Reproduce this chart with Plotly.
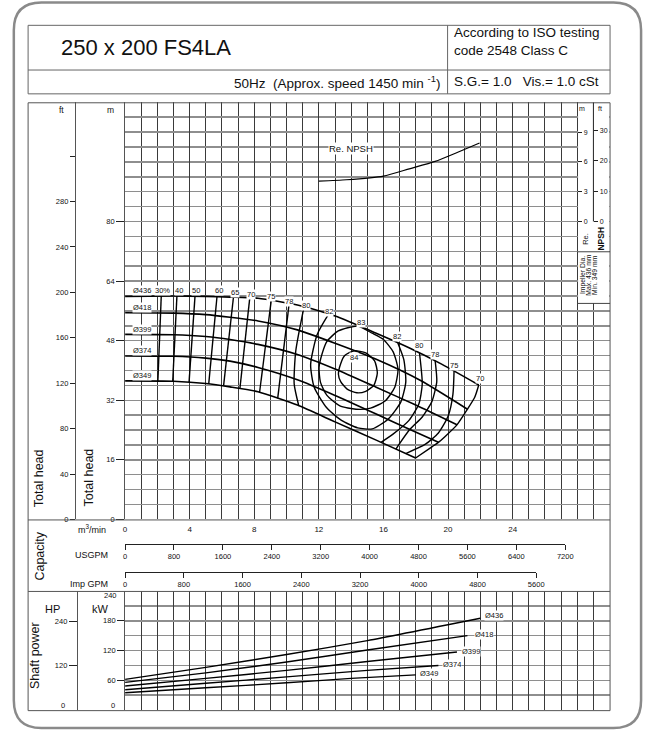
import plotly.graph_objects as go

# ---------------- data ----------------
# Capacity scales
m3min_ticks = [0, 4, 8, 12, 16, 20, 24]
usgpm_ticks = [0, 800, 1600, 2400, 3200, 4000, 4800, 5600, 6400, 7200]
impgpm_ticks = [0, 800, 1600, 2400, 3200, 4000, 4800, 5600]

# Head axes
head_m_ticks = [0, 16, 32, 48, 64, 80]
head_ft_ticks = [0, 40, 80, 120, 160, 200, 240, 280]
head_ft_extra_tick = [320]
npsh_m_ticks = [0, 3, 6, 9]
npsh_ft_ticks = [0, 10, 20, 30]
kw_ticks = [60, 120, 180]
hp_ticks = [120, 240]

diam_labels = ["Ø436", "Ø418", "Ø399", "Ø374", "Ø349"]

# Head curves (Q in m3/min, H in m)
q436 = [0, 3, 5, 6.5, 8.23, 10.67, 13, 15.55, 17.58, 19.6, 21.9]
h436 = [59.9, 60.0, 59.9, 59.7, 59.4, 57.6, 54.6, 50.0, 46.1, 41.7, 36.1]
q418 = [0, 3, 5, 6.5, 8.23, 10.67, 13, 15.55, 18.3, 21.2]
h418 = [55.5, 55.4, 55.0, 54.3, 53.3, 50.9, 47.3, 43.0, 37.3, 29.6]
q399 = [0, 3, 5, 6.5, 8.23, 10.67, 13, 15.55, 18, 20.55]
h399 = [49.7, 49.6, 49.1, 48.3, 47.0, 44.3, 40.4, 35.5, 30.7, 25.4]
q374 = [0, 3, 5, 6.5, 8.23, 10.67, 13, 15.55, 17.5, 19.4]
h374 = [43.9, 43.8, 43.3, 42.5, 40.8, 37.5, 33.3, 28.3, 24.4, 20.7]
q349 = [0, 3, 5, 6.5, 8.23, 10.67, 13, 15.55, 17.99]
h349 = [37.2, 37.1, 36.5, 35.6, 34.3, 30.7, 26.2, 21.3, 16.5]
diam_label_q = [1.02, 1.02, 1.02, 1.02, 1.02]
diam_label_h = [61.4, 56.8, 51.0, 45.25, 38.6]

# Efficiency lines, left side (from largest to smallest impeller)
eff_left_q_top = [2.24, 3.21, 4.33, 5.69, 6.71, 7.72, 9.05, 10.16]
eff_left_h_top = [59.98, 60.0, 59.95, 59.8, 59.65, 59.5, 58.8, 58.0]
eff_left_q_bot = [2.03, 2.95, 3.96, 5.18, 6.1, 7.11, 8.33, 9.45]
eff_left_h_bot = [37.15, 37.1, 36.8, 36.4, 35.95, 35.15, 34.15, 32.5]
eff80_left_q = [11.08, 10.57, 10.47, 10.75]
eff80_left_h = [57.1, 45.3, 36.4, 30.6]
eff82_q = [12.6, 11.89, 11.49, 11.71, 12.5, 13.4, 14.4, 15.3, 16.28, 17.07, 17.38, 17.26, 16.89]
eff82_h = [55.1, 49.6, 41.6, 35.5, 29.9, 26.6, 24.6, 24.3, 26.9, 31.5, 36.8, 42.9, 47.4]
eff83_q = [12.01, 12.2, 12.5, 13.2, 14.4, 15.3, 16.0, 16.6, 16.9, 16.7, 16.1, 15.2, 14.3, 13.3, 12.5, 12.1, 12.01]
eff83_h = [40.8, 44.5, 47.8, 50.6, 51.9, 50.0, 48.3, 45.0, 40.3, 35.5, 31.8, 29.9, 29.6, 30.5, 33.3, 36.8, 40.8]
eff84_q = [13.21, 13.35, 13.6, 14.2, 14.9, 15.45, 15.62, 15.4, 14.9, 14.35, 13.75, 13.35, 13.21]
eff84_h = [39.0, 41.8, 44.0, 45.3, 44.7, 42.6, 39.3, 36.0, 34.4, 34.0, 35.0, 37.0, 39.0]
eff80_right_q = [18.23, 18.4, 18.19, 17.58, 16.59, 15.85]
eff80_right_h = [44.7, 36.35, 31.0, 26.6, 22.9, 20.7]
eff78_right_q = [19.2, 19.3, 19.0, 18.4, 17.6, 16.77]
eff78_right_h = [42.6, 37.0, 31.7, 27.5, 24.0, 18.9]
eff75_right_q = [20.37, 20.3, 20.0, 19.4, 18.6, 17.38]
eff75_right_h = [39.8, 33.6, 27.7, 23.2, 20.2, 17.7]
eff70_right_q = [21.9, 21.65, 21.2, 20.55, 19.82, 19.4, 19.0, 17.99]
eff70_right_h = [36.1, 32.8, 29.6, 25.4, 22.3, 20.7, 19.5, 16.5]

eff_label_text = ["30%", "40", "50", "60", "65", "70", "75", "78", "80", "82",
                  "83", "84", "82", "80", "78", "75", "70"]
eff_label_q = [2.32, 3.35, 4.39, 5.79, 6.83, 7.8, 9.02, 10.18, 11.22, 12.62,
               14.63, 14.15, 16.81, 18.19, 19.2, 20.38, 22.0]
eff_label_h = [61.4, 61.4, 61.4, 61.4, 60.8, 60.5, 59.9, 58.6, 57.4, 55.9,
               53.0, 43.5, 49.1, 46.7, 44.2, 41.4, 37.9]

# Required NPSH (m)
npsh_q = [12.0, 13.7, 16.0, 17.6, 19.2, 20.6, 21.95]
npsh_m = [4.07, 4.2, 4.57, 5.3, 6.05, 6.97, 7.9]

# Shaft power (kW)
pq436 = [0, 5, 10, 15, 22.0]
pk436 = [62, 86, 112, 140, 185]
pq418 = [0, 5, 10, 15, 21.2]
pk418 = [56, 75, 97, 121, 150]
pq399 = [0, 5, 10, 15, 20.55]
pk399 = [48.5, 64, 80, 98, 117]
pq374 = [0, 5, 10, 15, 19.4]
pk374 = [41, 54, 67, 80, 90]
pq349 = [0, 5, 10, 14, 18.0]
pk349 = [35, 45, 55, 64, 71]
power_label_q = [22.2, 21.62, 20.8, 19.63, 18.23]
power_label_kw = [190, 152, 118, 92, 74]

# ---------------- layout helpers ----------------
W, H = 654, 735
def px(x):
    return x / W
def py(y):
    return 1 - y / H

FONT = "Liberation Sans, Arial, sans-serif"
VGRID = "#3a3a3a"
HGRID = "#8e8e8e"
BOX = "#555555"

fig = go.Figure()

def curve(q, h, yaxis="y", xaxis="x", width=1.5, shape="spline", smoothing=0.6, color="black"):
    fig.add_trace(go.Scatter(x=q, y=h, mode="lines", xaxis=xaxis, yaxis=yaxis,
                             line=dict(color=color, width=width, shape=shape, smoothing=smoothing),
                             hoverinfo="skip", showlegend=False))

# head curves
for q, h in [(q436, h436), (q418, h418), (q399, h399), (q374, h374), (q349, h349)]:
    curve(q, h, width=1.6)
# efficiency lines
for i in range(len(eff_left_q_top)):
    curve([eff_left_q_top[i], eff_left_q_bot[i]], [eff_left_h_top[i], eff_left_h_bot[i]],
          shape="linear", width=1.4)
for q, h in [(eff80_left_q, eff80_left_h), (eff82_q, eff82_h), (eff83_q, eff83_h),
             (eff84_q, eff84_h), (eff80_right_q, eff80_right_h), (eff78_right_q, eff78_right_h),
             (eff75_right_q, eff75_right_h), (eff70_right_q, eff70_right_h)]:
    curve(q, h, width=1.4)
# NPSH
curve(npsh_q, npsh_m, yaxis="y3", width=1.2)
# shaft power
for q, p in [(pq436, pk436), (pq418, pk418), (pq399, pk399), (pq374, pk374), (pq349, pk349)]:
    curve(q, p, xaxis="x2", yaxis="y2", width=1.4)

# empty traces so that the secondary scales are drawn
for xa, ya in [("x", "y4"), ("x", "y5"), ("x2", "y6"), ("x3", "y7"), ("x4", "y8")]:
    fig.add_trace(go.Scatter(x=[], y=[], mode="lines", xaxis=xa, yaxis=ya,
                             hoverinfo="skip", showlegend=False))

tf = dict(size=7.5, color="#111", family=FONT)

layout = dict(
    width=W, height=H, margin=dict(l=0, r=0, t=0, b=0),
    paper_bgcolor="white", plot_bgcolor="rgba(0,0,0,0)",
    font=dict(family=FONT, size=8, color="#111"), showlegend=False,
    xaxis=dict(domain=[px(125), px(617)], range=[0, 30], anchor="y", tickmode="array",
               tickvals=m3min_ticks, ticks="", showline=False, zeroline=False,
               ticklabelstandoff=4,
               showgrid=True, gridcolor=VGRID, gridwidth=1,
               minor=dict(dtick=1, showgrid=True, gridcolor=VGRID, gridwidth=1),
               tickfont=dict(size=8, color="#111", family=FONT), fixedrange=True),
    yaxis=dict(domain=[py(523), py(103)], range=[0, 112], anchor="x", tickmode="array",
               tickvals=head_m_ticks, ticks="outside", ticklen=8, tickcolor="#222",
               showline=True, linecolor=BOX, zeroline=False,
               showgrid=True, gridcolor=HGRID, gridwidth=1.5,
               minor=dict(dtick=4, showgrid=True, gridcolor=HGRID, gridwidth=1.5),
               tickfont=tf, fixedrange=True),
    yaxis3=dict(overlaying="y", anchor="free", position=px(584.2), side="right",
                range=[-30, 12], tickmode="array", tickvals=npsh_m_ticks, ticks="outside",
                ticklen=4, tickcolor="#222", showline=False, showgrid=False, zeroline=False,
                tickfont=dict(size=7, color="#111", family=FONT), fixedrange=True),
    yaxis4=dict(overlaying="y", anchor="free", position=px(600.6), side="right",
                range=[-30 / 0.3048, 12 / 0.3048], tickmode="array", tickvals=npsh_ft_ticks,
                ticks="outside", ticklen=4, tickcolor="#222", showline=False, showgrid=False,
                zeroline=False, tickfont=dict(size=7, color="#111", family=FONT), fixedrange=True),
    yaxis5=dict(overlaying="y", anchor="free", position=px(74), side="left",
                range=[0, 112 / 0.3048], tickmode="array", tickvals=head_ft_ticks,
                ticks="outside", ticklen=5, tickcolor="#222",
                minor=dict(tickmode="array", tickvals=head_ft_extra_tick, ticks="outside",
                           ticklen=5, tickcolor="#222", showgrid=False),
                showline=True, linecolor=BOX, showgrid=False, zeroline=False,
                tickfont=tf, fixedrange=True),
    xaxis2=dict(domain=[px(125), px(617)], range=[0, 30], anchor="y2", dtick=1,
                showticklabels=False, ticks="", showline=False, zeroline=False,
                showgrid=True, gridcolor=VGRID, gridwidth=1, fixedrange=True),
    yaxis2=dict(domain=[py(715), py(595)], range=[0, 240], anchor="x2", tickmode="array",
                tickvals=kw_ticks, ticks="outside", ticklen=7, tickcolor="#222",
                showline=True, linecolor=BOX, zeroline=False,
                showgrid=True, gridcolor=HGRID, gridwidth=1.5,
                minor=dict(dtick=30, showgrid=True, gridcolor=HGRID, gridwidth=1.5),
                tickfont=tf, fixedrange=True),
    yaxis6=dict(overlaying="y2", anchor="free", position=px(76), side="left",
                range=[0, 240 / 0.7457], tickmode="array", tickvals=hp_ticks,
                ticks="outside", ticklen=8, tickcolor="#222", showline=True, linecolor=BOX,
                showgrid=False, zeroline=False, tickfont=tf, fixedrange=True),
    xaxis3=dict(domain=[px(125), px(125 + 16.4 * 7200 / 264.172)], range=[0, 7200],
                anchor="y7", side="bottom", tickmode="array", tickvals=usgpm_ticks,
                ticks="outside", ticklen=5, tickcolor="#222", showline=True, linecolor="#222",
                showgrid=False, zeroline=False, tickfont=tf, fixedrange=True),
    yaxis7=dict(domain=[py(548), py(542)], anchor="x3", range=[0, 1], visible=False, fixedrange=True),
    xaxis4=dict(domain=[px(125), px(125 + 16.4 * 5600 / 219.969)], range=[0, 5600],
                anchor="y8", side="bottom", tickmode="array", tickvals=impgpm_ticks,
                ticks="outside", ticklen=5, tickcolor="#222", showline=True, linecolor="#222",
                showgrid=False, zeroline=False, tickfont=tf, fixedrange=True),
    yaxis8=dict(domain=[py(576), py(570)], anchor="x4", range=[0, 1], visible=False, fixedrange=True),
)
fig.update_layout(**layout)

# ---------------- shapes ----------------
shapes = []
def line(x0, y0, x1, y1, color=BOX, width=1):
    shapes.append(dict(type="line", xref="paper", yref="paper", x0=px(x0), y0=py(y0),
                       x1=px(x1), y1=py(y1), line=dict(color=color, width=width), layer="above"))

# outer rounded frame
r = 28
fx0, fy0, fx1, fy1 = 12, 2.5, 649, 733
path = (f"M {px(fx0 + r)},{py(fy0)} L {px(fx1 - r)},{py(fy0)} "
        f"Q {px(fx1)},{py(fy0)} {px(fx1)},{py(fy0 + r)} L {px(fx1)},{py(fy1 - r)} "
        f"Q {px(fx1)},{py(fy1)} {px(fx1 - r)},{py(fy1)} L {px(fx0 + r)},{py(fy1)} "
        f"Q {px(fx0)},{py(fy1)} {px(fx0)},{py(fy1 - r)} L {px(fx0)},{py(fy0 + r)} "
        f"Q {px(fx0)},{py(fy0)} {px(fx0 + r)},{py(fy0)} Z")
shapes.append(dict(type="path", xref="paper", yref="paper", path=path,
                   line=dict(color="#8a8a8a", width=2.5), layer="below"))

# header box
line(26.5, 25.5, 617.5, 25.5, "#666")
line(26.5, 94.5, 617.5, 94.5, "#666")
line(26.5, 25.5, 26.5, 94.5, "#666")
line(617.5, 25.5, 617.5, 94.5, "#666")
line(26.5, 70.5, 617.5, 70.5, "#666")
line(452.5, 25.5, 452.5, 94.5, "#666")

# main box
line(26.5, 103.5, 617.5, 103.5)
line(26.5, 715.5, 617.5, 715.5)
line(26.5, 103.5, 26.5, 715.5)
line(617.5, 103.5, 617.5, 715.5)
line(26.5, 523.5, 617.5, 523.5)
line(26.5, 595.5, 617.5, 595.5)

# NPSH / impeller corner box
shapes.append(dict(type="rect", xref="x", yref="y", x0=28.05, x1=30, y0=(523 - 305) / 3.75, y1=112,
                   fillcolor="white", line=dict(width=0), layer="between"))
line(600.6, 103.5, 600.6, 223, "#222")
line(584.2, 253.5, 617.5, 253.5, "#444")
line(584.2, 305.5, 617.5, 305.5, "#444")
fig.update_layout(shapes=shapes)

# ---------------- annotations ----------------
anns = []
def ann(text, x, y, size=8, xanchor="center", yanchor="middle", angle=0, bg=None,
        xref="paper", yref="paper", color="#111", align="center"):
    d = dict(text=text, x=px(x) if xref == "paper" else x, y=py(y) if yref == "paper" else y,
             xref=xref, yref=yref, showarrow=False, xanchor=xanchor, yanchor=yanchor,
             textangle=angle, align=align, font=dict(size=size, family=FONT, color=color))
    if bg:
        d.update(bgcolor=bg, borderpad=0)
    anns.append(d)

# header
ann("250 x 200 FS4LA", 58, 48, size=22, xanchor="left")
ann("According to ISO testing<br>code 2548 Class C", 457, 41.5, size=13.5, xanchor="left", align="left")
ann("50Hz\u00a0\u00a0(Approx. speed 1450\u00a0min\u00a0<sup>-1</sup>)", 448, 82.5, size=13.5, xanchor="right")
ann("S.G.= 1.0\u00a0\u00a0\u00a0Vis.= 1.0 cSt", 457, 82.5, size=13.5, xanchor="left")

# head panel labels
ann("ft", 60, 111, size=8.5)
ann("m", 110, 111, size=8.5)
ann("Total head", 37, 481, size=12.5, angle=-90)
ann("Total head", 88, 481, size=12.5, angle=-90)
ann("m", 589.5, 109, size=7)
ann("ft", 607.5, 109, size=7)
ann("Re.", 592.5, 240, size=7.5, angle=-90)
ann("<b>NPSH</b>", 608.5, 240, size=8.5, angle=-90)
ann("Impeller Dia.", 590, 277, size=6.8, angle=-90)
ann("Max. 436 mm", 595.7, 277, size=6.8, angle=-90)
ann("Min. 349 mm", 601, 277, size=6.8, angle=-90)

# capacity panel labels
ann("Capacity", 39, 560, size=12.5, angle=-90)
ann("m<sup>3</sup>/min", 108, 533, size=9, xanchor="right")
ann("USGPM", 110, 559, size=9, xanchor="right")
ann("Imp GPM", 110, 588, size=9, xanchor="right")

# shaft power panel labels
ann("HP", 51, 613, size=11)
ann("kW", 100, 613, size=11)
ann("240", 110, 600, size=7.5)
ann("0", 113, 710.5, size=7.5)
ann("0", 62, 710.5, size=7.5)
ann("Shaft power", 33, 660, size=12.5, angle=-90)

# curve labels (data coordinates)
for t, q, h in zip(diam_labels, diam_label_q, diam_label_h):
    ann(t, q, h, size=7.5, xref="x", yref="y", bg="white")
for t, q, h in zip(eff_label_text, eff_label_q, eff_label_h):
    ann(t, q, h, size=7.5, xref="x", yref="y", bg="white")
ann("Re. NPSH", 14.0, 99.7, size=9.5, xref="x", yref="y", bg="white")
for t, q, p in zip(diam_labels, power_label_q, power_label_kw):
    ann(t, q, p, size=7.5, xanchor="left", xref="x2", yref="y2", bg="white")

fig.update_layout(annotations=anns)

fig.write_html("out.html", config={"displayModeBar": False, "staticPlot": True},
               post_script="document.body.style.margin='0';document.body.style.overflow='hidden';")
